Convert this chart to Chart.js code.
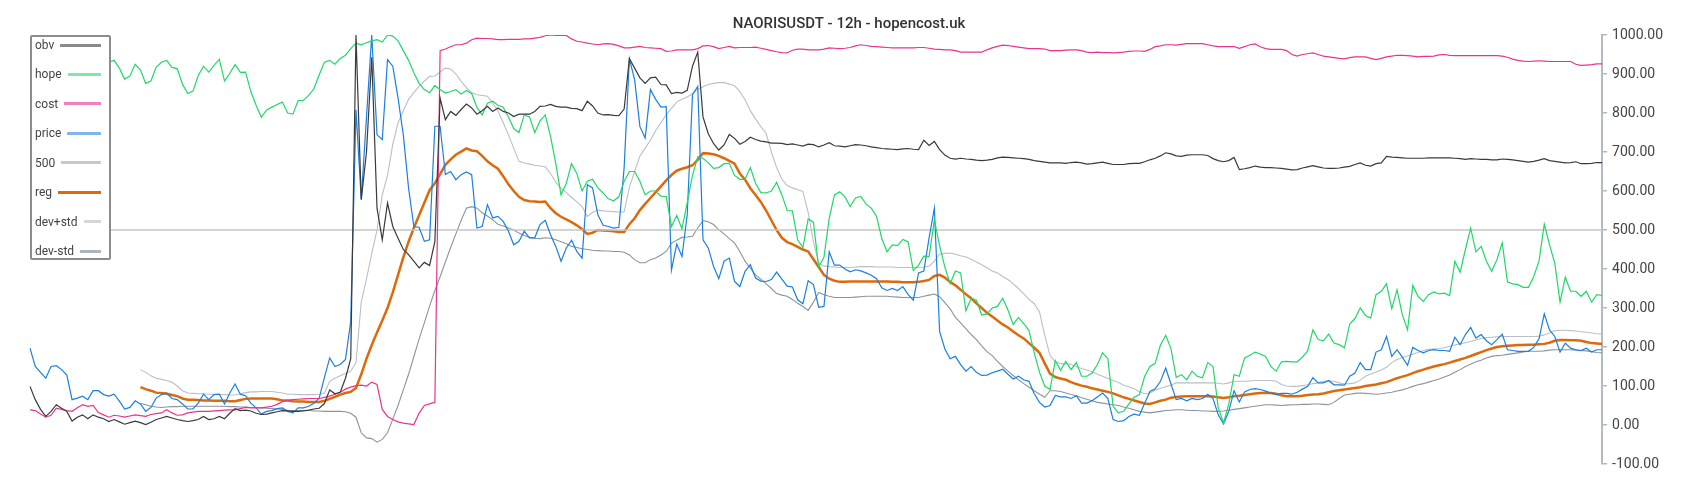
<!DOCTYPE html>
<html>
<head>
<meta charset="utf-8">
<title>NAORISUSDT - 12h - hopencost.uk</title>
<script src="https://cdn.jsdelivr.net/npm/chart.js@4"></script>
<style>
  html, body { margin: 0; padding: 0; background: #fff; }
  #wrap { position: relative; width: 1700px; height: 500px; }
  #legend {
    position: absolute; left: 30px; top: 35px; width: 81px; height: 225px;
    box-sizing: border-box; border: 2px solid #8c8c8c; border-radius: 2px;
    background: #fff; font-family: Roboto, sans-serif; font-size: 12px; color: #444;
  }
  .row { position: absolute; left: 3px; right: 8px; height: 20px; display: flex; align-items: center; white-space: nowrap; }
  .row .sw { flex: 1; height: 3px; margin-left: 6px; }
</style>
</head>
<body>
<div id="wrap">
  <canvas id="chart" width="1700" height="500"></canvas>
  <div id="legend"></div>
</div>
<script>
// ===============================
// Data (12h candles)
// ===============================
const LEVEL = 500;

const price = [
  197,150,135,120,150,152,142,128,65,69,74,65,88,88,78,74,79,61,41,45,
  62,54,35,45,69,78,82,68,65,54,41,41,56,79,65,78,79,54,82,105,
  79,75,56,44,28,35,37,42,44,
  35,31,44,44,48,56,69,122,172,150,155,168,266,808,578,790,1000,744,732,937,
  920,838,744,608,509,507,471,475,766,766,642,650,629,642,649,642,505,509,565,531,
  535,522,497,462,471,497,480,480,514,
  525,488,458,420,454,474,445,428,616,608,539,512,509,505,507,660,939,885,765,736,
  860,835,815,816,397,464,432,539,847,868,475,454,407,375,420,428,368,355,394,411,
  377,369,368,373,392,374,356,354,321,311,
  370,360,302,304,444,410,410,400,393,398,395,390,384,375,352,345,350,345,355,335,
  320,390,395,480,556,240,195,170,176,155,138,150,135,127,128,134,138,143,130,118,
  125,116,112,80,58,46,50,76,72,
  72,68,75,56,56,62,72,82,68,14,9,11,22,28,25,56,86,93,112,146,
  105,65,68,62,68,65,68,79,68,26,3,35,88,59,85,91,93,91,87,82,
  78,81,81,79,84,92,99,121,108,
  108,114,103,103,102,125,133,160,142,142,187,193,227,176,193,174,153,199,191,185,
  191,193,191,191,189,225,206,232,250,223,232,216,206,219,233,193,191,189,189,189,
  199,221,285,244,227,187,210,197,193,191,197,187,193,193
];

const obv = [
  99,65,40,22,35,52,43,35,10,20,26,16,26,20,16,9,14,8,2,6,
  10,6,1,7,14,18,22,18,14,11,9,11,14,22,14,16,22,16,30,42,
  37,38,36,30,27,28,31,34,37,
  36,35,35,36,38,41,43,55,90,80,84,120,170,1000,578,700,943,556,475,569,
  509,479,450,437,420,403,417,409,470,838,783,804,794,809,823,813,797,806,817,804,
  813,804,800,791,797,797,797,804,817,
  818,822,817,815,815,812,811,806,830,818,800,795,796,794,793,810,939,915,890,876,
  890,892,873,872,850,853,851,858,920,956,790,747,722,705,718,745,735,720,727,738,
  732,728,726,723,723,722,719,721,718,715,
  720,719,713,718,724,716,715,713,716,719,718,716,713,711,709,708,707,706,708,709,
  707,706,730,717,727,706,692,684,682,684,682,681,679,678,679,681,685,687,686,685,
  684,683,681,678,676,674,672,672,672,
  671,673,674,672,669,670,672,674,671,668,668,668,670,671,671,675,680,684,690,698,
  695,690,689,692,693,693,693,691,683,678,675,678,686,655,657,660,664,661,660,660,
  659,658,656,654,655,659,662,665,662,
  659,658,658,659,661,663,668,672,666,664,670,672,689,687,686,685,684,684,684,684,
  685,685,685,685,685,684,683,681,683,682,681,681,680,680,682,681,680,678,676,674,
  676,679,683,678,676,674,672,673,675,670,670,671,673,673
];

const cost = [
  39,37,28,20,25,43,40,37,35,44,52,48,50,32,26,20,25,23,20,23,
  26,24,22,27,29,31,39,31,25,26,31,33,35,35,35,36,37,38,39,39,
  42,45,44,44,44,46,48,53,60,
  63,65,66,67,68,68,68,71,74,79,84,92,97,101,102,100,110,104,40,22,
  14,8,5,3,1,30,50,54,58,960,964,970,975,975,979,988,992,991,991,990,
  988,988,989,989,989,990,990,992,994,
  998,1000,999,999,999,990,984,982,979,977,975,977,978,976,972,967,967,969,971,968,
  967,966,965,958,959,962,962,962,962,965,972,973,970,965,968,971,967,968,968,968,
  969,966,963,960,957,955,954,961,964,964,
  962,962,962,964,967,966,965,966,968,972,975,973,971,970,969,968,967,967,967,967,
  967,968,968,966,964,963,962,962,960,956,956,956,956,956,962,967,971,974,973,971,
  969,967,965,965,965,964,960,960,960,
  961,962,962,960,956,955,956,955,955,954,955,956,958,959,959,958,963,970,972,975,
  975,974,976,978,978,978,978,975,972,970,970,970,970,966,970,975,977,970,965,963,
  963,963,960,950,946,950,952,954,950,
  946,944,942,940,939,942,944,944,944,940,937,940,944,946,948,948,947,946,944,945,
  945,946,949,950,948,947,947,947,947,947,947,947,947,947,946,943,938,935,933,932,
  933,934,933,932,932,932,932,932,925,922,923,924,926,926
];

// hidden under the legend box at the start
const hope = [
  null,null,null,null,null,null,null,null,null,null,null,null,null,null,null,
  930,935,915,887,895,925,911,876,882,918,930,935,917,914,874,850,856,896,920,905,
  922,938,882,902,924,904,905,855,820,789,808,815,822,828,
  800,797,832,832,845,862,898,930,935,925,940,948,965,979,975,980,985,988,982,1000,
  997,985,960,935,903,876,860,852,870,860,851,855,860,849,858,850,815,795,825,830,
  820,815,790,760,750,795,790,750,780,
  795,740,670,590,620,670,645,600,625,630,608,595,580,575,585,625,650,650,625,590,
  600,600,587,586,509,537,503,570,640,688,684,672,658,660,670,671,640,630,630,660,
  620,596,595,600,622,590,550,549,475,455,
  528,520,405,430,530,590,598,585,560,582,586,567,556,535,478,444,462,460,476,470,
  396,410,433,432,526,460,405,362,395,390,293,325,320,282,285,300,304,325,295,258,
  276,260,242,185,135,100,91,165,140,
  163,142,160,125,125,133,155,185,170,48,31,35,54,71,78,125,150,158,205,230,
  196,122,129,116,138,125,121,160,150,44,5,54,129,125,172,179,187,182,176,150,
  138,162,163,162,162,174,190,244,219,
  216,233,210,206,198,259,273,300,281,274,334,343,362,298,347,283,244,358,330,317,
  334,341,336,338,332,420,392,450,505,444,458,420,394,424,467,367,362,360,353,353,
  381,420,515,462,415,315,379,343,343,330,343,315,334,332
];

const reg = [
  null,null,null,null,null,null,null,null,null,null,null,null,null,null,null,null,null,null,null,null,null,
  97,92,88,83,82,80,77,74,68,65,65,64,63,63,62,62,62,61,61,64,67,68,68,68,68,68,66,63,
  63,61,60,60,59,59,59,62,67,72,78,82,85,95,130,170,205,237,268,300,
  340,385,430,470,505,538,570,602,620,643,667,681,693,701,709,704,702,690,676,666,
  657,638,617,600,585,577,574,573,572,
  573,556,543,534,527,520,512,502,490,493,500,499,498,497,495,495,515,530,551,567,
  582,597,612,627,641,652,657,661,666,680,697,696,694,690,684,677,670,645,629,607,
  590,572,550,525,500,480,469,464,457,450,
  445,425,405,385,375,370,367,367,368,368,368,368,368,368,368,368,367,367,366,366,
  366,367,369,372,382,385,378,367,358,347,335,325,312,300,288,278,268,258,250,240,
  230,222,210,198,185,158,132,123,119,
  116,110,105,101,98,94,91,88,85,81,76,71,67,63,59,55,54,58,62,65,
  70,72,73,74,74,74,74,74,73,71,69,71,74,75,77,79,81,82,82,82,
  80,76,74,74,74,75,77,78,79,
  81,84,87,89,91,93,95,97,100,102,104,107,110,115,120,124,128,133,138,142,
  146,150,153,156,160,164,168,172,177,182,187,192,196,200,202,203,204,205,205,206,
  206,207,208,211,216,218,218,217,217,216,213,210,209,208
];

const devUp = [
  null,null,null,null,null,null,null,null,null,null,null,null,null,null,null,null,null,null,null,null,null,
  142,135,126,120,117,114,110,100,88,82,81,80,80,79,79,78,78,77,77,80,83,85,85,86,86,86,84,82,
  79,79,78,78,78,78,79,82,112,120,126,132,138,160,315,375,440,500,590,640,
  720,775,805,835,852,868,882,894,895,905,915,913,900,881,865,852,847,845,843,825,
  806,775,744,710,676,672,669,666,664,
  662,645,622,607,596,584,572,560,535,545,551,549,548,547,546,546,610,650,690,710,
  730,755,775,795,812,828,835,841,850,860,867,873,876,878,878,874,870,855,834,806,
  785,765,748,700,660,630,614,608,603,599,
  545,470,415,408,406,405,404,404,404,405,406,406,406,405,405,405,405,404,404,404,
  404,404,405,407,420,438,440,441,438,434,431,425,418,411,403,395,390,381,373,362,
  350,336,322,311,290,230,178,162,157,
  158,155,150,145,141,137,130,125,119,114,109,102,98,93,85,80,82,89,94,98,
  102,108,108,108,108,108,108,108,108,107,105,108,112,112,112,113,114,114,114,114,
  112,104,100,99,99,101,103,106,108,
  112,113,112,108,105,106,108,115,125,131,136,141,148,160,168,173,177,182,186,191,
  194,195,196,198,202,205,208,211,214,218,222,224,225,226,227,227,227,227,227,227,
  227,228,231,236,242,243,243,242,241,239,238,236,234,233
];

const devDn = [
  null,null,null,null,null,null,null,null,null,null,null,null,null,null,null,null,null,null,null,null,null,
  56,52,48,46,45,46,47,47,48,48,48,48,48,48,48,48,48,47,47,46,46,45,45,44,43,42,41,40,
  37,37,37,37,37,36,36,35,35,35,35,34,30,20,-20,-33,-35,-44,-37,-20,
  15,50,90,130,175,220,262,305,345,380,418,455,490,525,556,560,556,544,536,526,
  515,510,505,500,492,486,481,479,478,
  480,479,475,470,465,458,455,452,450,448,447,446,446,445,445,443,436,424,416,416,
  424,428,436,445,466,474,481,482,484,505,524,521,514,501,490,478,467,445,420,402,
  385,374,362,350,337,333,330,322,312,304,
  294,315,340,334,330,327,327,327,327,328,329,330,330,330,330,330,329,328,327,327,
  327,327,330,333,336,329,314,298,276,262,247,232,219,203,188,178,163,150,138,127,
  116,106,97,88,79,71,88,88,86,
  82,78,75,70,66,62,58,56,54,52,50,46,43,39,35,33,31,33,35,37,
  38,39,39,38,37,37,36,36,35,35,36,38,40,42,44,46,48,50,52,52,
  51,50,51,52,52,53,53,54,54,
  53,52,58,68,77,79,81,82,81,80,79,80,82,84,87,90,94,99,103,106,
  110,114,118,123,128,135,142,150,156,162,166,172,176,178,179,181,183,185,187,189,
  189,189,190,192,193,193,193,193,192,191,190,188,186,185
];

const candles = price.map((_, i) => i);
const level500 = candles.map(() => LEVEL);
const yTicks = { min: -100, max: 1000, step: 100 };

console.log("lengths", price.length, obv.length, cost.length, hope.length, reg.length, devUp.length, devDn.length);

// ===============================
// Datasets
// ===============================
function serie(label, data, color, swatch, width) {
  return {
    label: label,
    data: data,
    borderColor: color,
    backgroundColor: color,
    borderWidth: width,
    swatch: swatch,
    pointRadius: 0,
    fill: false,
    tension: 0
  };
}

const datasets = [
  serie("obv", obv, "#3a3a3a", "#8a8a8a", 1.2),
  serie("hope", hope, "#1fd868", "#80e8a8", 1.2),
  serie("cost", cost, "#e8348c", "#f07fbc", 1.2),
  serie("price", price, "#1a7fe0", "#7fb6ec", 1.2),
  serie("500", level500, "#c4c4c4", "#c8c8c8", 1.6),
  serie("reg", reg, "#dc6a0c", "#dc6a0c", 2.5),
  serie("dev+std", devUp, "#b9bfc5", "#d4d7da", 1.1),
  serie("dev-std", devDn, "#8a949c", "#adb4ba", 1.1)
];

new Chart(document.getElementById("chart"), {
  type: "line",
  data: { labels: candles, datasets: datasets },
  options: {
    responsive: false,
    animation: false,
    layout: { padding: { left: 30, right: 32, top: 0, bottom: 36 } },
    plugins: {
      legend: { display: false },
      tooltip: { enabled: false },
      title: {
        display: true,
        text: "NAORISUSDT - 12h - hopencost.uk",
        color: "#333",
        font: { family: "Roboto", size: 15, weight: "500" },
        padding: { top: 15, bottom: 2 }
      }
    },
    scales: {
      x: { display: false },
      y: {
        position: "right",
        min: yTicks.min,
        max: yTicks.max,
        ticks: {
          stepSize: yTicks.step,
          color: "#444",
          padding: 5,
          font: { family: "Roboto", size: 14 },
          callback: (v) => Number(v).toFixed(2)
        },
        grid: { drawOnChartArea: false, drawTicks: true, tickLength: 5, color: "#b3bbc2", lineWidth: 1.5 },
        border: { display: true, color: "#b3bbc2", width: 2 }
      }
    }
  }
});

// --- Legend (HTML, over the plot) ---
const legendBox = document.getElementById("legend");
datasets.forEach((ds, i) => {
  const row = document.createElement("div");
  row.className = "row";
  row.style.top = (-2 + i * 29.43) + "px";
  row.innerHTML = `<span>${ds.label}</span><span class="sw" style="background:${ds.swatch}"></span>`;
  legendBox.appendChild(row);
});
</script>
</body>
</html>
